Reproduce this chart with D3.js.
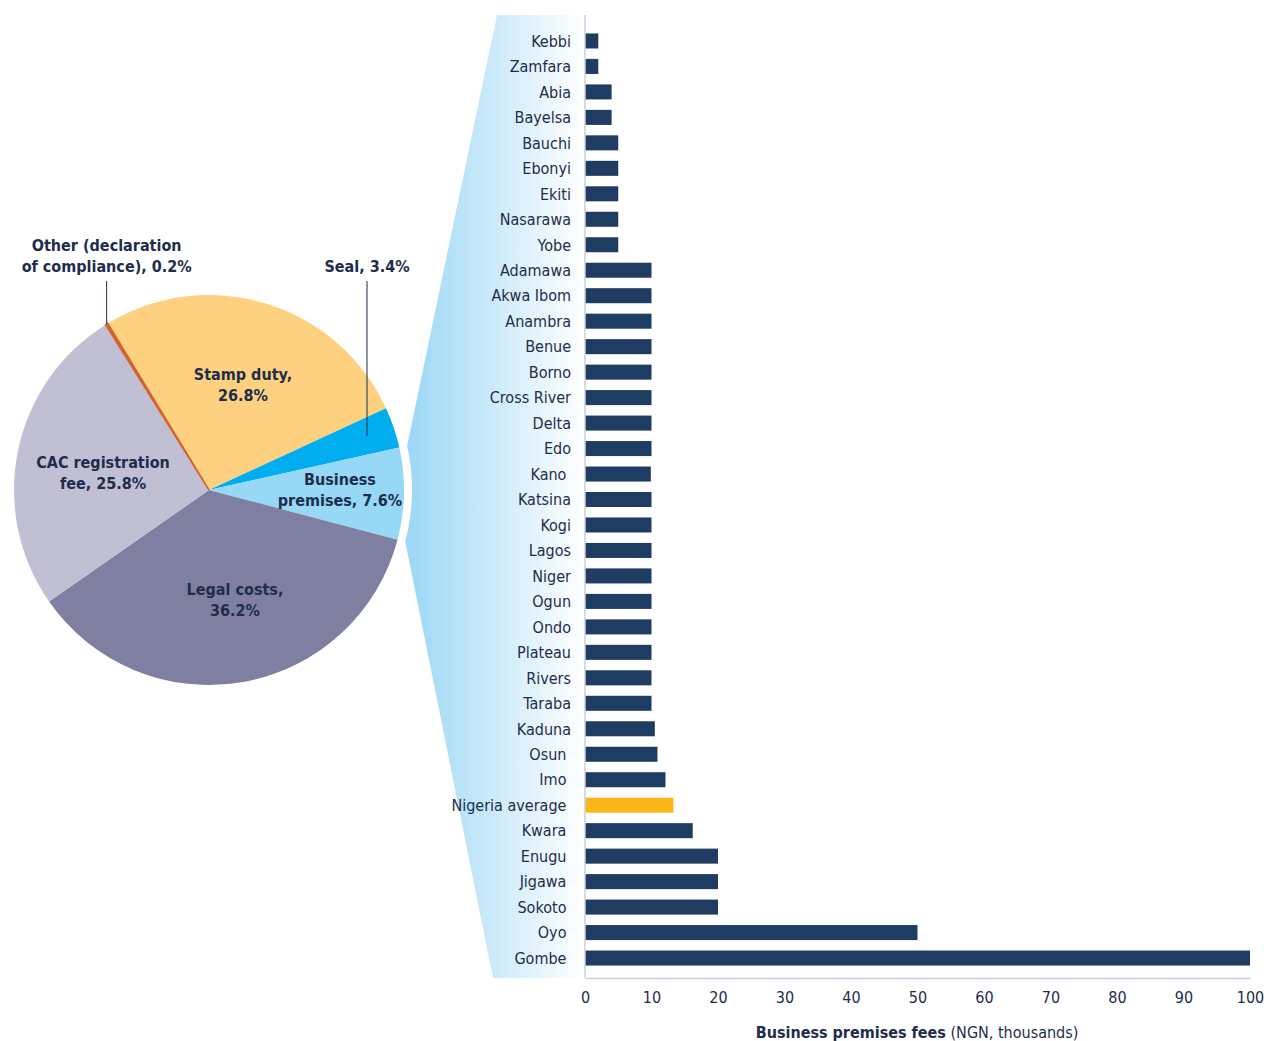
<!DOCTYPE html>
<html>
<head>
<meta charset="utf-8">
<script src="https://cdn.jsdelivr.net/npm/d3@7"></script>
<style>
  body { margin: 0; background: #fff; }
  svg { display: block; }
  text { font-family: "Liberation Sans Narrow", "DejaVu Sans Condensed", "Roboto", sans-serif; fill: #1e2d4c; }
</style>
</head>
<body>
<svg id="chart" width="1264" height="1041"></svg>
<script>
// pie: cost components of starting a business
const pieLabels = ["Stamp duty", "Seal", "Business premises", "Legal costs", "CAC registration fee", "Other (declaration of compliance)"];
const pieValues = [26.8, 3.4, 7.6, 36.2, 25.8, 0.2];
const pieColors = ["#fdd17f", "#00aeef", "#96d8f6", "#7f7fa2", "#c0bfd3", "#d4622a"];

// bars: business premises fees by state
const states = ["Kebbi", "Zamfara", "Abia", "Bayelsa", "Bauchi", "Ebonyi", "Ekiti", "Nasarawa", "Yobe",
  "Adamawa", "Akwa Ibom", "Anambra", "Benue", "Borno", "Cross River", "Delta", "Edo", "Kano ", "Katsina",
  "Kogi", "Lagos", "Niger", "Ogun", "Ondo", "Plateau", "Rivers", "Taraba", "Kaduna", "Osun ", "Imo ",
  "Nigeria average ", "Kwara ", "Enugu ", "Jigawa ", "Sokoto ", "Oyo ", "Gombe "];
const fees = [2, 2, 4, 4, 5, 5, 5, 5, 5,
  10, 10, 10, 10, 10, 10, 10, 10, 9.9, 10,
  10, 10, 10, 10, 10, 10, 10, 10, 10.5, 10.9, 12.1,
  13.3, 16.2, 20, 20, 20, 50, 100];
const xTicks = [0, 10, 20, 30, 40, 50, 60, 70, 80, 90, 100];

const svg = d3.select("#chart");

// ---- zoom wedge (gradient panel) ----
const defs = svg.append("defs");
const grad = defs.append("linearGradient").attr("id", "wedge").attr("x1", "0%").attr("x2", "100%");
grad.append("stop").attr("offset", "0%").attr("stop-color", "#9bd7f5");
grad.append("stop").attr("offset", "100%").attr("stop-color", "#ffffff");

const cx = 209, cy = 490, r = 195;
const pie = d3.pie().sort(null).value(d => d)
  .startAngle(-31.3 * Math.PI / 180).endAngle((360 - 31.3) * Math.PI / 180);
const arcs = pie(pieValues);

// the wedge hugs the business premises slice with a small white gap
const bp = arcs[2];
const gapR = r + 8;
const pB = [cx + gapR * Math.sin(bp.endAngle), cy - gapR * Math.cos(bp.endAngle)];
const wedgePath = d3.path();
wedgePath.moveTo(497, 15);
wedgePath.lineTo(585, 15);
wedgePath.lineTo(585, 978);
wedgePath.lineTo(493, 978);
wedgePath.lineTo(pB[0], pB[1]);
wedgePath.arc(cx, cy, gapR, bp.endAngle - Math.PI / 2, bp.startAngle - Math.PI / 2, true);
wedgePath.closePath();
svg.append("path").attr("d", wedgePath.toString()).attr("fill", "url(#wedge)");

// ---- pie ----
const arc = d3.arc().innerRadius(0).outerRadius(r);
const pg = svg.append("g").attr("transform", `translate(${cx},${cy})`);
pg.selectAll("path").data(arcs).enter().append("path")
  .attr("d", arc)
  .attr("fill", (d, i) => pieColors[i])
  .attr("stroke", (d, i) => i === 5 ? pieColors[5] : "none")
  .attr("stroke-width", 1.5);

const insideLabels = [
  { lines: ["Stamp duty,", "26.8%"], x: 243, y: 374 },
  { lines: ["Business", "premises, 7.6%"], x: 340, y: 479 },
  { lines: ["Legal costs,", "36.2%"], x: 235, y: 589 },
  { lines: ["CAC registration", "fee, 25.8%"], x: 103, y: 462 }
];
insideLabels.forEach(l => {
  const t = svg.append("text").attr("text-anchor", "middle")
    .style("font-weight", "bold").style("font-size", "16px");
  l.lines.forEach((s, k) => t.append("tspan").attr("x", l.x).attr("y", l.y + 6 + k * 21).text(s));
});

// outside labels with leader lines
const otherAng = (arcs[5].startAngle + arcs[5].endAngle) / 2;
const otherPt = [cx + r * Math.sin(otherAng), cy - r * Math.cos(otherAng)];
svg.append("line").attr("x1", otherPt[0]).attr("x2", otherPt[0]).attr("y1", 281).attr("y2", otherPt[1])
  .attr("stroke", "#1e2d4c").attr("stroke-width", 1);
const sealX = 367;
svg.append("line").attr("x1", sealX).attr("x2", sealX).attr("y1", 281).attr("y2", 436)
  .attr("stroke", "#1e2d4c").attr("stroke-width", 1);

const outside = [
  { lines: ["Other (declaration", "of compliance), 0.2%"], x: otherPt[0], y: 245 },
  { lines: ["Seal, 3.4%"], x: sealX, y: 266 }
];
outside.forEach(l => {
  const t = svg.append("text").attr("text-anchor", "middle")
    .style("font-weight", "bold").style("font-size", "16px");
  l.lines.forEach((s, k) => t.append("tspan").attr("x", l.x).attr("y", l.y + 6 + k * 21).text(s));
});

// ---- bar chart ----
const x = d3.scaleLinear().domain([0, 100]).range([585, 1250]);
const y = d3.scaleBand().domain(states).range([23, 976]).padding(0.41);

svg.append("g").selectAll("rect").data(states).enter().append("rect")
  .attr("x", x(0))
  .attr("y", d => y(d))
  .attr("width", (d, i) => x(fees[i]) - x(0))
  .attr("height", y.bandwidth())
  .attr("fill", d => d.trim() === "Nigeria average" ? "#fbb617" : "#1f3d62");

svg.append("g").selectAll("text").data(states).enter().append("text")
  .attr("x", 571)
  .attr("y", d => y(d) + y.bandwidth() / 2)
  .attr("dy", "0.36em")
  .attr("text-anchor", "end")
  .style("white-space", "pre")
  .style("font-size", "16px")
  .text(d => d);

// axis lines
svg.append("line").attr("x1", 585).attr("x2", 585).attr("y1", 15).attr("y2", 978)
  .attr("stroke", "#cdcde0").attr("stroke-width", 1.5);

const xAxis = d3.axisBottom(x).tickValues(xTicks).tickSize(0).tickPadding(14);
const ax = svg.append("g").attr("transform", "translate(0,978)").call(xAxis);
ax.select(".domain").attr("stroke", "#cdcde0").attr("stroke-width", 1.5);
ax.selectAll("text").style("font-size", "16px").style("fill", "#1e2d4c")
  .style("font-family", "'Liberation Sans Narrow','DejaVu Sans Condensed',sans-serif");

const title = svg.append("text").attr("x", 917).attr("y", 1038).attr("text-anchor", "middle")
  .style("font-size", "16px");
title.append("tspan").style("font-weight", "bold").text("Business premises fees");
title.append("tspan").text(" (NGN, thousands)");
</script>
</body>
</html>
